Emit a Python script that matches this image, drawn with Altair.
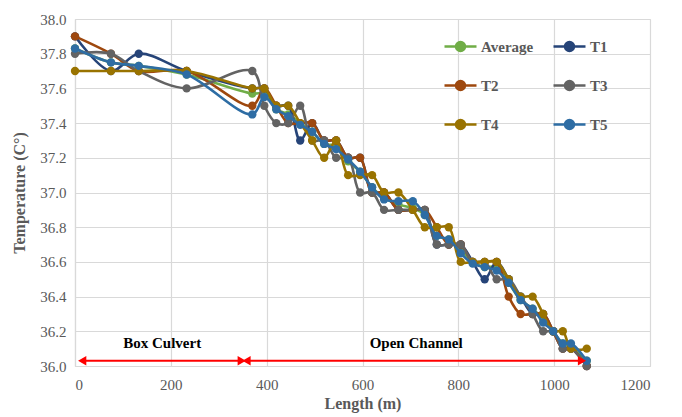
import altair as alt
import pandas as pd

# Sampling positions along the channel (m)
length = [0, 75, 133, 233, 370, 395, 420, 445, 470, 495, 520, 545, 570, 595, 620, 645,
          675, 705, 730, 755, 780, 805, 830, 855, 880, 905, 930, 955, 977, 998, 1018, 1035, 1068]

average = [37.83, 37.75, 37.73, 37.68, 37.57, 37.57, 37.48, 37.45, 37.40, 37.35, 37.28, 37.27,
           37.18, 37.12, 37.03, 36.97, 36.93, 36.91, 36.87, 36.75, 36.73, 36.67, 36.60, 36.57,
           36.57, 36.48, 36.38, 36.33, 36.27, 36.20, 36.13, 36.11, 36.03]
t1 = [37.9, 37.7, 37.8, 37.7, 37.6, 37.6, 37.5, 37.5, 37.3, 37.4, 37.3, 37.3, 37.2, 37.2, 37.0,
      37.0, 36.9, 36.9, 36.9, 36.7, 36.7, 36.7, 36.6, 36.5, 36.6, 36.5, 36.4, 36.3, 36.3, 36.2,
      36.1, 36.1, 36.0]
t2 = [37.9, 37.8, 37.7, 37.7, 37.5, 37.6, 37.5, 37.4, 37.4, 37.4, 37.3, 37.3, 37.2, 37.2, 37.0,
      37.0, 36.9, 36.9, 36.9, 36.8, 36.7, 36.7, 36.6, 36.6, 36.6, 36.4, 36.3, 36.3, 36.3, 36.2,
      36.1, 36.1, 36.0]
t3 = [37.8, 37.8, 37.7, 37.6, 37.7, 37.5, 37.4, 37.4, 37.5, 37.3, 37.3, 37.2, 37.2, 37.0, 37.0,
      36.9, 36.9, 36.9, 36.9, 36.7, 36.7, 36.7, 36.6, 36.6, 36.5, 36.5, 36.4, 36.3, 36.2, 36.2,
      36.1, 36.1, 36.0]
t4 = [37.7, 37.7, 37.7, 37.7, 37.6, 37.6, 37.5, 37.5, 37.4, 37.3, 37.2, 37.3, 37.1, 37.1, 37.1,
      37.0, 37.0, 36.9, 36.8, 36.8, 36.8, 36.6, 36.6, 36.6, 36.6, 36.5, 36.4, 36.4, 36.3, 36.2,
      36.2, 36.1, 36.1]
t5 = [37.83, 37.75, 37.73, 37.68, 37.45, 37.55, 37.48, 37.44, 37.39, 37.35, 37.28, 37.25, 37.19,
      37.12, 37.03, 36.96, 36.95, 36.95, 36.87, 36.75, 36.73, 36.65, 36.59, 36.57, 36.55, 36.48,
      36.38, 36.33, 36.25, 36.20, 36.13, 36.13, 36.03]

series_names = ["Average", "T1", "T2", "T3", "T4", "T5"]
series_values = [average, t1, t2, t3, t4, t5]
series_colors = ["#70AD47", "#264478", "#9E480E", "#636363", "#997300", "#2E6DA4"]
# legend fills columns first, so list it column by column to read row by row
legend_order = ["Average", "T2", "T4", "T1", "T3", "T5"]

x_ticks = [0, 200, 400, 600, 800, 1000, 1200]
y_ticks = [36.0, 36.2, 36.4, 36.6, 36.8, 37.0, 37.2, 37.4, 37.6, 37.8, 38.0]

# Section annotations
section_labels = ["Box Culvert", "Open Channel"]
section_label_x = [182, 712]
section_label_y = [36.13, 36.13]
section_start = [15, 358]
section_end = [348, 1058]
arrow_y = [36.03, 36.03]

rows = []
for name, vals in zip(series_names, series_values):
    for x, v in zip(length, vals):
        rows.append({"Length": x, "Temp": v, "Series": name})
df = pd.DataFrame(rows)

sec = pd.DataFrame({"label": section_labels, "lx": section_label_x, "ly": section_label_y,
                    "x0": section_start, "x1": section_end, "ay": arrow_y})

FONT = "Liberation Serif"
xscale = alt.Scale(domain=[0, 1200], nice=False)
yscale = alt.Scale(domain=[36.0, 38.0], nice=False, zero=False)
lookup = dict(zip(series_names, series_colors))
cscale = alt.Scale(domain=legend_order, range=[lookup[n] for n in legend_order])

x_axis = alt.Axis(title="Length (m)", values=x_ticks, format="d", labelOverlap=False)
y_axis = alt.Axis(title="Temperature (C°)", values=y_ticks, format=".1f", labelOverlap=False)


def X(field):
    return alt.X(field, type="quantitative", scale=xscale, axis=x_axis)


def Y(field):
    return alt.Y(field, type="quantitative", scale=yscale, axis=y_axis)


legend_symbol = "M-1,0H1M-0.28,0A0.28,0.28,0,1,0,0.28,0A0.28,0.28,0,1,0,-0.28,0Z"
color = alt.Color("Series:N", scale=cscale, sort=legend_order,
                  legend=alt.Legend(title=None, orient="none", legendX=368, legendY=10,
                                    columns=2, columnPadding=14, rowPadding=12,
                                    symbolType=legend_symbol, symbolSize=1024,
                                    symbolStrokeWidth=2.5, labelFont=FONT,
                                    labelFontSize=15, labelFontWeight="bold",
                                    labelColor="#595959", labelOffset=3))
fill = alt.Fill("Series:N", scale=cscale, sort=legend_order, legend=None)

layers = []
for name in series_names:
    base = alt.Chart(df).transform_filter(alt.datum.Series == name)
    line = base.mark_line(strokeWidth=2.6, interpolate="catmull-rom").encode(
        x=X("Length"), y=Y("Temp"), color=color)
    pts = base.mark_point(filled=True, size=70, opacity=1).encode(
        x=X("Length"), y=Y("Temp"), color=color, fill=fill)
    layers += [line, pts]

arrows = alt.Chart(sec).mark_rule(color="#FF0000", strokeWidth=2).encode(
    x=X("x0"), x2="x1:Q", y=Y("ay"))
left_heads = alt.Chart(sec).mark_point(shape="triangle-left", filled=True, color="#FF0000",
                                       size=90, opacity=1).encode(x=X("x0"), y=Y("ay"))
right_heads = alt.Chart(sec).mark_point(shape="triangle-right", filled=True, color="#FF0000",
                                        size=90, opacity=1).encode(x=X("x1"), y=Y("ay"))
labels = alt.Chart(sec).mark_text(font=FONT, fontSize=15, fontWeight="bold", color="black").encode(
    x=X("lx"), y=Y("ly"), text="label:N")

chart = alt.layer(*layers, arrows, left_heads, right_heads, labels).properties(
    width=575, height=347,
    padding={"left": 67, "top": 11, "right": 20, "bottom": 50},
    autosize=alt.AutoSizeParams(type="none"),
).configure_view(stroke="#D9D9D9", strokeWidth=1).configure_axis(
    grid=True, gridColor="#D9D9D9", gridWidth=1.2, domainColor="#D9D9D9", domainWidth=1.2,
    ticks=False, labelFont=FONT, labelFontSize=15, labelColor="#595959",
    titleFont=FONT, titleFontSize=16, titleFontWeight="bold", titleColor="#595959",
).configure_axisY(titlePadding=12, labelPadding=9).configure_axisX(titlePadding=3, labelPadding=11)

chart.save("out.html", embed_options={"renderer": "svg", "actions": False})
